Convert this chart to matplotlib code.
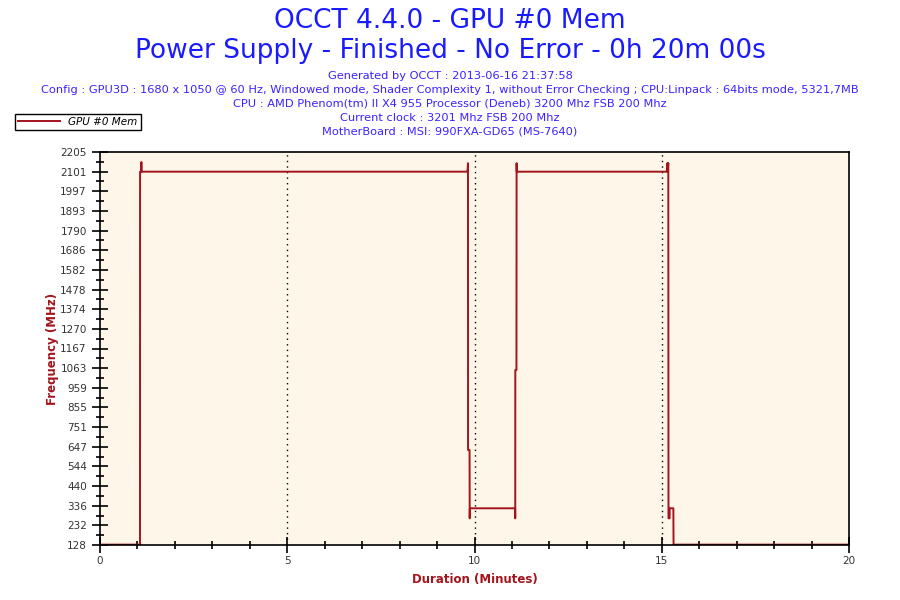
import matplotlib
matplotlib.use("Agg")
import matplotlib.pyplot as plt
import numpy as np

# data (minutes, MHz)
minutes = [0, 1.068, 1.07, 1.10, 1.105, 1.11,
           9.80, 9.815, 9.826, 9.828, 9.868, 9.872, 9.875,
           11.085, 11.088, 11.09, 11.12, 11.124, 11.127,
           15.14, 15.15, 15.155, 15.175, 15.18, 15.21, 15.212, 15.31, 15.315, 20]
mem_clock = [130, 130, 2101, 2101, 2152, 2101,
             2101, 2110, 2146, 630, 630, 269, 322,
             322, 269, 1053, 1053, 2146, 2101,
             2101, 2146, 2101, 2146, 269, 269, 322, 322, 130, 130]

ytick_labels = ["128", "232", "336", "440", "544", "647", "751", "855", "959", "1063",
                "1167", "1270", "1374", "1478", "1582", "1686", "1790", "1893", "1997",
                "2101", "2205"]
xtick_labels = ["0", "5", "10", "15", "20"]

title1 = "OCCT 4.4.0 - GPU #0 Mem"
title2 = "Power Supply - Finished - No Error - 0h 20m 00s"
info_lines = [
    "Generated by OCCT : 2013-06-16 21:37:58",
    "Config : GPU3D : 1680 x 1050 @ 60 Hz, Windowed mode, Shader Complexity 1, without Error Checking ; CPU:Linpack : 64bits mode, 5321,7MB",
    "CPU : AMD Phenom(tm) II X4 955 Processor (Deneb) 3200 Mhz FSB 200 Mhz",
    "Current clock : 3201 Mhz FSB 200 Mhz",
    "MotherBoard : MSI: 990FXA-GD65 (MS-7640)",
]

red = "#a3141c"

fig = plt.figure(figsize=(9, 6), dpi=100)
ax = fig.add_axes([100 / 900, 1 - 545 / 600, 749 / 900, 393 / 600])
ax.set_facecolor("#fef7e9")

line, = ax.plot(minutes, mem_clock, color=red, lw=1.4, label="GPU #0 Mem")

ax.set_xlim(0, 20)
ax.set_ylim(128, 2205)

yt = np.linspace(128, 2205, len(ytick_labels))
ax.set_yticks(yt)
ax.set_yticklabels(ytick_labels)
ax.set_yticks((yt[:-1] + yt[1:]) / 2, minor=True)
xt = np.linspace(0, 20, len(xtick_labels))
ax.set_xticks(xt)
ax.set_xticklabels(xtick_labels)
ax.set_xticks(np.arange(0, 21, 1), minor=True)

ax.tick_params(axis="y", which="major", direction="inout", length=11, width=1.2,
               labelsize=7.5, labelcolor="#333333", pad=4)
ax.tick_params(axis="y", which="minor", direction="inout", length=6, width=1.2)
ax.tick_params(axis="x", which="major", direction="inout", length=12, width=1.2,
               labelsize=7.5, labelcolor="#333333", pad=2)
ax.tick_params(axis="x", which="minor", direction="inout", length=6, width=1.2)

for s in ax.spines.values():
    s.set_linewidth(1.2)

for x in [5, 10, 15]:
    ax.axvline(x, color="black", lw=1, linestyle=(0, (1, 3)), zorder=1)

ax.set_xlabel("Duration (Minutes)", color=red, fontsize=8.5, fontweight="bold", labelpad=5)
ax.set_ylabel("Frequency (MHz)", color=red, fontsize=8.5, fontweight="bold", labelpad=1)

fig.text(0.5, 1 - 21 / 600, title1, ha="center", va="center", fontsize=19, color="#1a1aff")
fig.text(0.5, 1 - 51 / 600, title2, ha="center", va="center", fontsize=19, color="#1a1aff")
for i, t in enumerate(info_lines):
    fig.text(0.5, 1 - (76 + 14 * i) / 600, t, ha="center", va="center", fontsize=8.2, color="#3b22ff")

leg = fig.legend(handles=[line], loc="upper left", bbox_to_anchor=(15 / 900, 1 - 114 / 600),
                 fancybox=False, edgecolor="black", framealpha=1, prop={"style": "italic", "size": 7.5},
                 handlelength=4, borderpad=0.3, borderaxespad=0)
leg.get_frame().set_linewidth(1)

fig.savefig("out.png", dpi=100, facecolor="white")
